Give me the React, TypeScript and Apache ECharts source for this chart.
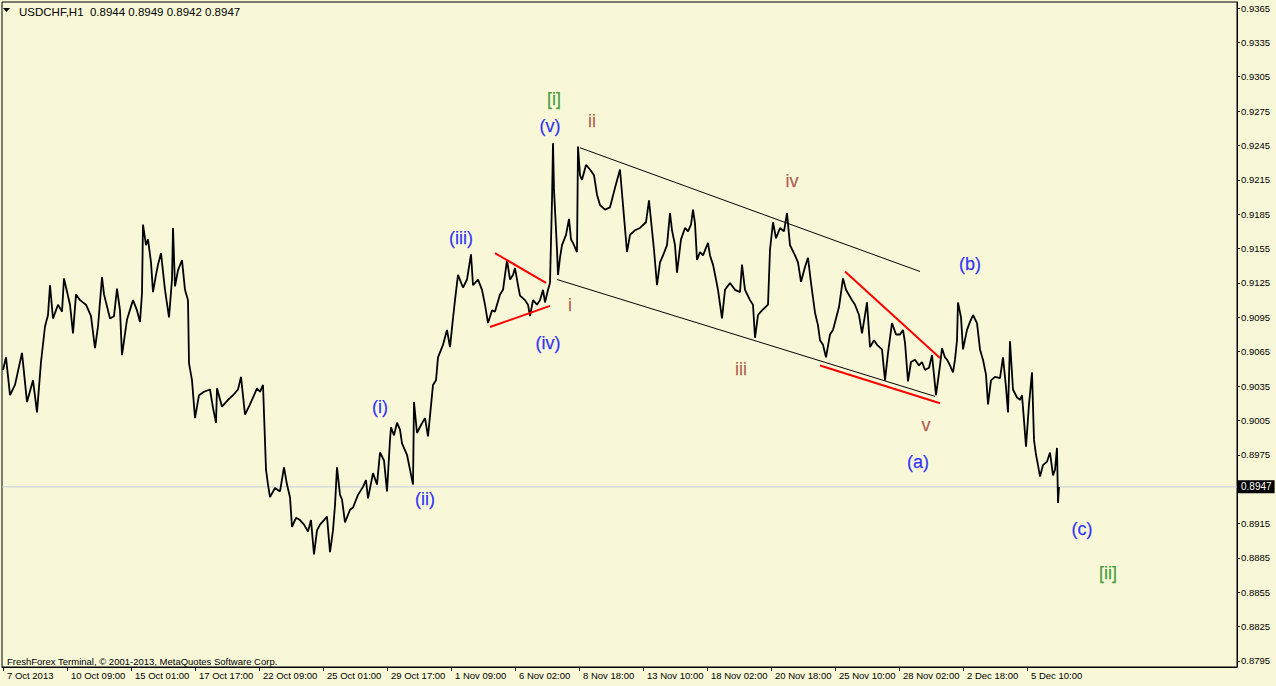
import React, { useEffect, useRef } from "react";
import * as echarts from "echarts";

// Hourly USDCHF price path: [bar number, price]
const bars: [number, number][] = [
  [0,0.9049],[3,0.9060],[7,0.9027],[12,0.9036],[19,0.9064],[24,0.9021],[30,0.9040],[34,0.9012],[38,0.9056],[42,0.9087],
  [45,0.9097],[47,0.9123],[50,0.9094],[55,0.9106],[59,0.9100],[61,0.9129],[67,0.9106],[70,0.9081],[73,0.9115],[77,0.9110],
  [83,0.9106],[88,0.9096],[92,0.9068],[95,0.9087],[99,0.9130],[101,0.9115],[107,0.9094],[111,0.9096],[114,0.9120],[117,0.9101],
  [119,0.9062],[124,0.9093],[130,0.9110],[134,0.9101],[137,0.9091],[139,0.9116],[140,0.9176],[143,0.9158],[145,0.9163],[148,0.9143],
  [150,0.9117],[153,0.9132],[155,0.9141],[158,0.9151],[162,0.9119],[166,0.9095],[169,0.9128],[170,0.9173],[172,0.9122],[175,0.9136],
  [179,0.9145],[182,0.9119],[185,0.9110],[186,0.9055],[189,0.9040],[192,0.9007],[196,0.9027],[201,0.9030],[207,0.9032],[210,0.9016],
  [213,0.9003],[214,0.9033],[219,0.9017],[225,0.9023],[230,0.9027],[235,0.9032],[238,0.9043],[242,0.9010],[247,0.9019],[254,0.9033],
  [257,0.9030],[260,0.9036],[263,0.8962],[265,0.8949],[267,0.8938],[272,0.8946],[277,0.8943],[281,0.8964],[284,0.8949],[287,0.8938],
  [289,0.8912],[293,0.8920],[297,0.8918],[301,0.8914],[305,0.8908],[308,0.8918],[311,0.8888],[314,0.8909],[317,0.8914],[321,0.8918],
  [324,0.8921],[327,0.8890],[330,0.8909],[332,0.8931],[334,0.8964],[337,0.8940],[339,0.8936],[342,0.8916],[347,0.8927],[350,0.8929],
  [355,0.8940],[360,0.8947],[363,0.8953],[365,0.8937],[370,0.8959],[374,0.8949],[377,0.8977],[381,0.8970],[384,0.8943],[387,0.8988],
  [388,0.8999],[391,0.8992],[394,0.9003],[397,0.8997],[399,0.8985],[404,0.8975],[407,0.8962],[410,0.8949],[411,0.9021],[414,0.8994],
  [418,0.9001],[422,0.9007],[425,0.8991],[430,0.9036],[433,0.9040],[435,0.9060],[440,0.9071],[444,0.9084],[447,0.9069],[450,0.9094],
  [452,0.9110],[455,0.9132],[460,0.9121],[464,0.9128],[468,0.9150],[470,0.9123],[475,0.9128],[479,0.9119],[482,0.9106],[485,0.9090],
  [489,0.9101],[492,0.9100],[497,0.9115],[500,0.9119],[504,0.9145],[507,0.9128],[510,0.9132],[512,0.9138],[515,0.9123],[517,0.9114],
  [522,0.9110],[525,0.9106],[527,0.9096],[530,0.9110],[534,0.9106],[537,0.9110],[540,0.9119],[542,0.9108],[545,0.9119],[547,0.9125],
  [549,0.9197],[550,0.9247],[551,0.9206],[552,0.9189],[554,0.9154],[555,0.9132],[557,0.9147],[559,0.9158],[563,0.9167],[566,0.9181],
  [568,0.9163],[570,0.9160],[574,0.9152],[575,0.9244],[577,0.9219],[579,0.9215],[583,0.9228],[587,0.9224],[591,0.9219],[594,0.9202],
  [597,0.9193],[602,0.9189],[607,0.9191],[612,0.9208],[617,0.9224],[620,0.9193],[624,0.9152],[627,0.9167],[632,0.9171],[637,0.9173],
  [643,0.9178],[646,0.9197],[649,0.9171],[651,0.9154],[654,0.9123],[657,0.9143],[660,0.9149],[664,0.9158],[667,0.9186],[669,0.9171],
  [672,0.9158],[674,0.9134],[678,0.9163],[682,0.9173],[685,0.9170],[688,0.9176],[690,0.9189],[692,0.9177],[694,0.9145],[697,0.9152],
  [700,0.9149],[705,0.9160],[707,0.9149],[710,0.9141],[713,0.9128],[715,0.9119],[719,0.9094],[722,0.9119],[727,0.9125],[732,0.9119],
  [737,0.9117],[739,0.9141],[742,0.9119],[747,0.9110],[750,0.9106],[752,0.9077],[755,0.9097],[759,0.9101],[765,0.9106],[767,0.9154],
  [770,0.9178],[773,0.9164],[777,0.9173],[781,0.9170],[784,0.9186],[787,0.9158],[792,0.9149],[795,0.9143],[798,0.9126],[802,0.9139],
  [805,0.9147],[808,0.9125],[812,0.9099],[815,0.9088],[817,0.9075],[820,0.9071],[823,0.9060],[827,0.9080],[830,0.9084],[833,0.9094],
  [836,0.9104],[840,0.9129],[843,0.9119],[845,0.9116],[849,0.9110],[852,0.9106],[856,0.9097],[859,0.9081],[862,0.9097],[864,0.9108],
  [867,0.9069],[871,0.9075],[874,0.9071],[879,0.9067],[882,0.9040],[885,0.9064],[889,0.9090],[893,0.9080],[897,0.9080],[900,0.9084],
  [902,0.9073],[905,0.9039],[908,0.9056],[912,0.9058],[916,0.9053],[919,0.9056],[922,0.9049],[926,0.9051],[929,0.9062],[932,0.9036],
  [933,0.9027],[935,0.9040],[937,0.9053],[939,0.9068],[942,0.9060],[944,0.9058],[947,0.9053],[950,0.9047],[952,0.9058],[954,0.9075],
  [955,0.9108],[958,0.9095],[960,0.9067],[964,0.9084],[967,0.9091],[970,0.9097],[974,0.9090],[977,0.9067],[980,0.9058],[983,0.9045],
  [985,0.9019],[988,0.9040],[992,0.9043],[997,0.9042],[1000,0.9060],[1003,0.9034],[1005,0.9012],[1007,0.9074],[1010,0.9032],[1014,0.9025],
  [1017,0.9023],[1019,0.9027],[1021,0.9005],[1023,0.8982],[1026,0.9019],[1029,0.9047],[1031,0.8988],[1033,0.8975],[1035,0.8966],[1037,0.8956],
  [1040,0.8966],[1044,0.8969],[1047,0.8977],[1050,0.8957],[1052,0.8962],[1054,0.8981],[1055,0.8933],[1056,0.8947],
];

// Last bar: open, high, low, close
const lastBar = [0.8944, 0.8949, 0.8942, 0.8947];
const symbolName = "USDCHF,H1";

// Time axis labels (bar number of each label)
const timeTickBars = [0, 64, 128, 192, 256, 320, 384, 448, 512, 576, 640, 704, 768, 832, 896, 960, 1024];
const timeTickLabels = [
  "7 Oct 2013", "10 Oct 09:00", "15 Oct 01:00", "17 Oct 17:00", "22 Oct 09:00", "25 Oct 01:00",
  "29 Oct 17:00", "1 Nov 09:00", "6 Nov 02:00", "8 Nov 18:00", "13 Nov 10:00", "18 Nov 02:00",
  "20 Nov 18:00", "25 Nov 10:00", "28 Nov 02:00", "2 Dec 18:00", "5 Dec 10:00",
];

// Price axis labels
const priceTicks = [
  0.8795, 0.8825, 0.8855, 0.8885, 0.8915, 0.8945, 0.8975, 0.9005, 0.9035, 0.9065,
  0.9095, 0.9125, 0.9155, 0.9185, 0.9215, 0.9245, 0.9275, 0.9305, 0.9335, 0.9365,
];

// Elliott wave labels: text, bar, price, degree
const waveText = ["[i]", "(v)", "ii", "(iii)", "i", "(iv)", "iv", "(b)", "iii", "(i)", "(ii)", "v", "(a)", "(c)", "[ii]"];
const waveBar = [551, 547, 589, 458, 567, 545, 789, 967, 738, 377, 422, 923, 915, 1079, 1105];
const wavePrice = [0.9286, 0.9262, 0.9266, 0.9164, 0.9106, 0.9073, 0.9214, 0.91415, 0.9050, 0.9017, 0.8936, 0.9001, 0.8969, 0.8910, 0.8872];
const waveDegree = ["minor", "minute", "minuette", "minute", "minuette", "minute", "minuette", "minute", "minuette", "minute", "minute", "minuette", "minute", "minute", "minor"];

// Trend lines drawn on the chart: [bar1, price1, bar2, price2], kind
const trendLines: [number, number, number, number][] = [
  [577, 0.9243, 917, 0.9135],
  [554, 0.9128, 932, 0.9026],
  [492, 0.9151, 543, 0.9125],
  [487, 0.90865, 547, 0.9105],
  [842, 0.9135, 937, 0.90595],
  [817, 0.9053, 937, 0.9020],
];
const trendKind = ["channel", "channel", "pattern", "pattern", "pattern", "pattern"];

const FONT = "'Liberation Sans', Arial, sans-serif";
const degreeColor: Record<string, string> = { minor: "#23851A", minute: "#0000FF", minuette: "#A03A36" };

export default function App() {
  const ref = useRef<HTMLDivElement>(null);
  useEffect(() => {
    if (!ref.current) return;
    const chart = echarts.init(ref.current, undefined, { renderer: "svg" });
    const xMin = -1;
    const xMax = 1234;
    const yMin = 0.8795 - 6 / 11456;
    const yMax = 0.9365 + 6 / 11456;
    const close = lastBar[3];

    const series: any[] = [
      {
        type: "line",
        data: [[xMin, close], [xMax, close]],
        showSymbol: false,
        symbol: "none",
        clip: false,
        silent: true,
        lineStyle: { color: "#C8C8DC", width: 1 },
        z: 1,
        endLabel: {
          show: true,
          distance: 1,
          formatter: close.toFixed(4),
          backgroundColor: "#000",
          color: "#fff",
          fontSize: 10,
          fontFamily: FONT,
          padding: [2, 3, 1, 3],
        },
      },
      {
        type: "line",
        data: bars,
        showSymbol: false,
        symbol: "none",
        lineStyle: { color: "#000", width: 1.8 },
        z: 5,
      },
      ...trendLines.map((t, k) => ({
        type: "line",
        data: [[t[0], t[1]], [t[2], t[3]]],
        showSymbol: false,
        symbol: "none",
        lineStyle: trendKind[k] === "channel" ? { color: "#000", width: 1 } : { color: "#FF0000", width: 2 },
        z: 6,
      })),
      {
        type: "scatter",
        symbolSize: 0,
        itemStyle: { color: "transparent" },
        z: 7,
        data: waveText.map((t, k) => ({
          value: [waveBar[k], wavePrice[k]],
          name: t,
          label: {
            show: true,
            position: "inside",
            formatter: t,
            color: degreeColor[waveDegree[k]],
            textBorderWidth: 0.25,
            textBorderColor: degreeColor[waveDegree[k]],
            fontSize: 18,
            fontFamily: FONT,
          },
        })),
      },
    ];

    chart.setOption({
      animation: false,
      backgroundColor: "#F8F8D8",
      grid: { left: 2, right: 39, top: 2, bottom: 19, show: true, borderColor: "#000", borderWidth: 1 },
      xAxis: {
        type: "value",
        min: xMin,
        max: xMax,
        splitLine: { show: false },
        axisLine: { show: true, onZero: false, lineStyle: { color: "#000" } },
        axisTick: { show: true, customValues: timeTickBars, length: 4, lineStyle: { color: "#000" } },
        axisLabel: {
          customValues: timeTickBars,
          formatter: (v: number) => timeTickLabels[timeTickBars.indexOf(v)] ?? "",
          align: "left",
          margin: 3,
          padding: [0, 0, 0, 4],
          color: "#000",
          fontSize: 9.5,
          fontFamily: FONT,
        },
      },
      yAxis: {
        type: "value",
        position: "right",
        min: yMin,
        max: yMax,
        splitLine: { show: false },
        axisLine: { show: true, onZero: false, lineStyle: { color: "#000" } },
        axisTick: { show: true, customValues: priceTicks, length: 3, lineStyle: { color: "#000" } },
        axisLabel: {
          customValues: priceTicks,
          formatter: (v: number) => v.toFixed(4),
          margin: 4,
          color: "#000",
          fontSize: 9.5,
          fontFamily: FONT,
        },
      },
      graphic: [
        { type: "polygon", shape: { points: [[3, 8], [10, 8], [6.5, 12]] }, style: { fill: "#000" } },
        {
          type: "text",
          x: 19,
          y: 6,
          style: {
            text: symbolName + "  " + lastBar.map((v) => v.toFixed(4)).join(" "),
            fill: "#000",
            font: "11.5px " + FONT,
          },
        },
        {
          type: "text",
          x: 7,
          y: 656,
          style: {
            text: "FreshForex Terminal, © 2001-2013, MetaQuotes Software Corp.",
            fill: "#000",
            font: "9.5px " + FONT,
          },
        },
      ],
      series,
    });
    return () => chart.dispose();
  }, []);
  return <div ref={ref} style={{ position: "fixed", left: 0, top: 0, width: 1276, height: 686 }} />;
}
